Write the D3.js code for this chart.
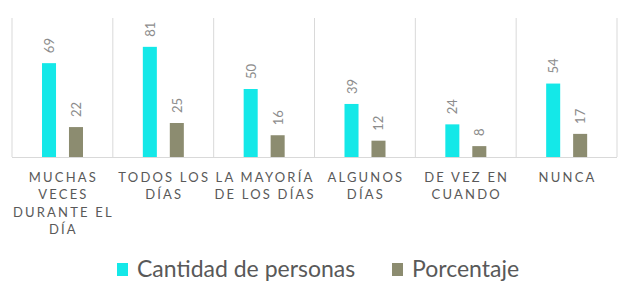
<!DOCTYPE html>
<html>
<head>
<meta charset="utf-8">
<script src="https://cdn.jsdelivr.net/npm/d3@7"></script>
<style>
  body { margin: 0; background: #fff; }
  text { font-family: Lato, "Open Sans", sans-serif; }
</style>
</head>
<body>
<div id="chart"></div>
<script>
var categories = [
    ["MUCHAS", "VECES", "DURANTE EL", "DÍA"],
    ["TODOS LOS", "DÍAS"],
    ["LA MAYORÍA", "DE LOS DÍAS"],
    ["ALGUNOS", "DÍAS"],
    ["DE VEZ EN", "CUANDO"],
    ["NUNCA"]
];
var series = ["Cantidad de personas", "Porcentaje"];
var cantidad = [69, 81, 50, 39, 24, 54];
var porcentaje = [22, 25, 16, 12, 8, 17];

function init() {
    var width = 624;
    var height = 295;

    var color = d3.scaleOrdinal().domain(series).range(["#14e8e8", "#8c8c70"]);

    var svg = d3.select("#chart")
        .append("svg")
        .attr("width", width)
        .attr("height", height);

    // x: one band per category
    var x = d3.scaleBand()
        .domain(d3.range(categories.length))
        .range([12, 617])
        .padding(0);

    // bars inside each band
    var x1 = d3.scaleBand()
        .domain(series)
        .range([30, 71])
        .paddingInner(0.48);

    var y = d3.scaleLinear().domain([0, 100]).range([157, 21]);

    // vertical separators
    svg.selectAll(".sep")
        .data(d3.range(categories.length + 1))
        .enter()
        .append("line")
        .attr("x1", function (d) { return d < categories.length ? x(d) : x.range()[1]; })
        .attr("x2", function (d) { return d < categories.length ? x(d) : x.range()[1]; })
        .attr("y1", 18)
        .attr("y2", 157)
        .attr("stroke", "#d9d9d9")
        .attr("stroke-width", 1);

    // baseline
    svg.append("line")
        .attr("x1", x.range()[0])
        .attr("x2", x.range()[1])
        .attr("y1", y(0) + 0.5)
        .attr("y2", y(0) + 0.5)
        .attr("stroke", "#d9d9d9");

    var rows = categories.map(function (c, i) {
        return { i: i, values: [
            { key: series[0], v: cantidad[i] },
            { key: series[1], v: porcentaje[i] }
        ] };
    });

    var g = svg.selectAll(".cat")
        .data(rows)
        .enter()
        .append("g")
        .attr("transform", function (d) { return "translate(" + x(d.i) + ",0)"; });

    g.selectAll("rect")
        .data(function (d) { return d.values; })
        .enter()
        .append("rect")
        .attr("x", function (d) { return x1(d.key); })
        .attr("width", x1.bandwidth())
        .attr("y", function (d) { return y(d.v); })
        .attr("height", function (d) { return y(0) - y(d.v); })
        .attr("fill", function (d) { return color(d.key); });

    // rotated value labels
    g.selectAll(".val")
        .data(function (d) { return d.values; })
        .enter()
        .append("text")
        .attr("transform", function (d) {
            return "translate(" + (x1(d.key) + x1.bandwidth() / 2 + 5) + "," + (y(d.v) - 10) + ") rotate(-90)";
        })
        .attr("font-size", "13px")
        .attr("fill", "#8c8c8c")
        .text(function (d) { return d.v; });

    // category labels
    g.append("text")
        .attr("text-anchor", "middle")
        .attr("font-size", "13px")
        .attr("letter-spacing", "2.2px")
        .attr("fill", "#595959")
        .selectAll("tspan")
        .data(function (d) { return categories[d.i]; })
        .enter()
        .append("tspan")
        .attr("x", x.bandwidth() / 2 + 1)
        .attr("y", function (d, j) { return 182 + j * 17.3; })
        .text(function (d) { return d; });

    // legend
    var legendX = [137, 412];
    var leg = svg.selectAll(".legend")
        .data(series)
        .enter()
        .append("g")
        .attr("transform", function (d, i) { return "translate(" + legendX[i] + ",0)"; });

    leg.append("rect")
        .attr("x", -20)
        .attr("y", 263)
        .attr("width", 11)
        .attr("height", 13)
        .attr("fill", function (d) { return color(d); });

    leg.append("text")
        .attr("x", 0)
        .attr("y", 277)
        .attr("font-size", "23px")
        .attr("fill", "#595959")
        .text(function (d) { return d; });
}

window.onload = init;
</script>
</body>
</html>
